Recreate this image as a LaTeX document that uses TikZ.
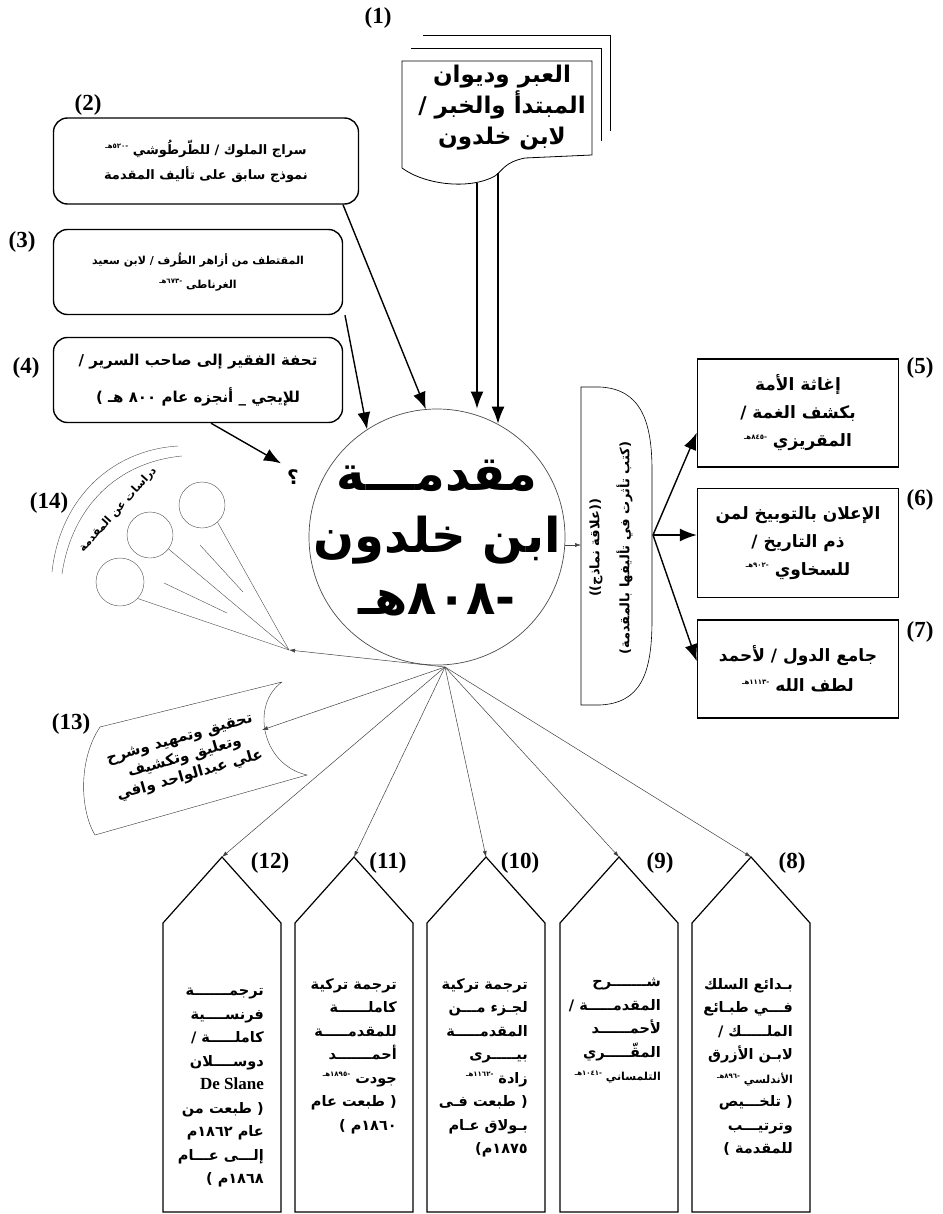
\documentclass[tikz,border=0pt]{standalone}
\usepackage{fontspec}
\setmainfont{Liberation Serif}
\newfontfamily\arabicfont[Script=Arabic]{DejaVu Sans}
\TeXXeTstate=1
\usetikzlibrary{arrows.meta,positioning}
\newcommand{\ar}[1]{{\arabicfont\bfseries\beginR #1\endR}}
\newcommand{\hd}[1]{\raisebox{0.8ex}{\fontsize{7}{7}\selectfont\beginR #1\endR}}
\begin{document}
\begin{tikzpicture}[x=1pt,y=-1pt,
    numlbl/.style={font=\bfseries\fontsize{23}{23}\selectfont, inner sep=0pt},
    srcbox/.style={draw, rounded corners=14pt, line width=1.4pt, align=center, inner sep=0pt},
    infbox/.style={draw, line width=1.4pt, minimum width=201pt, align=center, inner sep=0pt},
    bigarr/.style={-{Latex[length=17pt,width=13pt]}, line width=1.4pt},
    thinarr/.style={-{Latex[length=6pt,width=4pt]}, line width=0.5pt, black!75},
    ptext/.style={anchor=north east, align=right, inner sep=0pt, font=\fontsize{14.5}{23.5}\selectfont},
  ]
  \useasboundingbox (0,0) rectangle (942,1214);

  % top: source books
  \draw[line width=0.8pt] (423,35) -- (610,35) -- (610,131);
  \draw[line width=0.8pt] (411,48) -- (601,48) -- (601,141);
  \draw[line width=0.8pt] (402,61) -- (592,61) -- (592,155) -- (525,158)
    .. controls (505,162) and (503,170) .. (495,176)
    .. controls (470,190) and (425,185) .. (402,168) -- cycle;
  \node[font=\fontsize{23}{31}\selectfont, align=center] (doc) at (502,108)
    {\ar{العبر وديوان}\\ \ar{المبتدأ والخبر /}\\ \ar{لابن خلدون}};
  \coordinate (d1) at (477,183);
  \coordinate (d2) at (498,173);

  \node[srcbox, minimum width=305pt, minimum height=86pt, font=\fontsize{13}{25}\selectfont] (b2) at (206,161)
    {\ar{سراج الملوك / للطّرطُوشي \hd{-٥٢٠هـ}}\\ \ar{نموذج سابق على تأليف المقدمة}};
  \node[srcbox, minimum width=289pt, minimum height=85pt, font=\fontsize{11}{24}\selectfont] (b3) at (198,272)
    {\ar{المقتطف من أزاهر الطُرف / لابن سعيد}\\ \ar{الغرناطى \hd{-٦٧٣هـ}}};
  \node[srcbox, minimum width=289pt, minimum height=85pt, font=\fontsize{15}{37}\selectfont] (b4) at (198,380)
    {\ar{تحفة الفقير إلى صاحب السرير /}\\ \ar{للإيجي \_ أنجزه عام ٨٠٠ هـ )}};
  \node[font=\fontsize{20}{20}\selectfont, inner sep=6pt] (qm) at (293,477) {\ar{؟}};

  % center
  \node[circle, draw=black!70, line width=0.7pt, minimum size=256pt, inner sep=0pt] (mq) at (437,537) {};
  \node[font=\fontsize{48}{62}\selectfont, align=center] (mqtxt) at (437,538)
    {\ar{مقدمـــة}\\ \ar{ابن خلدون}\\ \ar{-٨٠٨هـ}};

  \draw[bigarr] (d1) -- (d1 |- mq.north);
  \draw[bigarr] (d2) -- (d2 |- mq.62);
  \draw[bigarr] ([xshift=137pt]b2.south) -- (mq.95);
  \draw[bigarr] ([xshift=147pt]b3.south) -- (mq.123);
  \draw[bigarr] ([xshift=13pt]b4.south) -- (qm.north west);

  % right: influenced books
  \draw[line width=0.6pt] (581,387) -- (600,387)
    .. controls (640,389) and (652,420) .. (652,470) -- (652,620)
    .. controls (652,675) and (640,703) .. (600,705) -- (581,705) -- cycle;
  \node[rotate=90, align=center, font=\fontsize{13}{30}\selectfont] (mlj) at (611,548)
    {\ar{((علاقة نماذج))}\\ \ar{(كتب تأثرت في تأليفها بالمقدمة)}};
  \coordinate (bnW) at (581,545);
  \coordinate (bnE) at (653,535);
  \draw[thinarr] (mq.east |- bnW) -- (bnW);

  \node[infbox, minimum height=108pt, font=\fontsize{17}{28}\selectfont] (b5) at (798,413)
    {\ar{إغاثة الأمة}\\ \ar{بكشف الغمة /}\\ \ar{المقريزي \hd{-٨٤٥هـ}}};
  \node[infbox, minimum height=109pt, font=\fontsize{17}{28}\selectfont] (b6) at (798,543)
    {\ar{الإعلان بالتوبيخ لمن}\\ \ar{ذم التاريخ /}\\ \ar{للسخاوي \hd{-٩٠٢هـ}}};
  \node[infbox, minimum height=98pt, font=\fontsize{17}{30}\selectfont] (b7) at (798,669)
    {\ar{جامع الدول / لأحمد}\\ \ar{لطف الله \hd{-١١١٣هـ}}};
  \draw[bigarr] (bnE) -- ([yshift=35pt]b5.south west);
  \draw[bigarr] (bnE) -- (b6.west |- bnE);
  \draw[bigarr] (bnE) -- ([yshift=-42pt]b7.north west);

  % left: studies (14)
  \node[circle, draw=black!70, minimum size=46pt, inner sep=0pt] (bl1) at (202,505) {};
  \node[circle, draw=black!70, minimum size=46pt, inner sep=0pt] (bl2) at (150,535) {};
  \node[circle, draw=black!70, minimum size=48pt, inner sep=0pt] (bl3) at (120,582) {};
  \coordinate (st14) at (289,650);
  \draw[black!70] (bl1.-48) -- (st14);
  \draw[black!70] (bl2.-37) -- (st14);
  \draw[black!70] (bl3.-43) -- (st14);
  \draw[black!70] (200,545) -- (243,592);
  \draw[black!70] (164,583) -- (227,613);
  \draw[black!70] (52,572) .. controls (60,498) and (112,450) .. (178,446);
  \draw[black!70] (62,574) .. controls (72,506) and (118,462) .. (182,456);
  \node[rotate=48, font=\fontsize{11}{11}\selectfont, inner sep=1pt] (drs) at (118,510) {\ar{دراسات عن المقدمة}};

  % left: edition (13)
  \draw[black!80] (282,682) -- (100,727)
    .. controls (78,760) and (80,810) .. (95,835) -- (307,775)
    .. controls (262,765) and (250,705) .. (282,682);
  \coordinate (sh13) at (262,730);
  \node[rotate=16, align=center, font=\fontsize{15}{19}\selectfont] (ed13) at (185,758)
    {\ar{تحقيق وتمهيد وشرح}\\ \ar{وتعليق وتكشيف}\\ \ar{علي عبدالواحد وافي}};

  % bottom: commentaries and translations
  \foreach \n/\cx in {8/751,9/619,10/486,11/354,12/222} {
    \draw[line width=1.2pt] (\cx-59,1212) -- (\cx-59,923) -- (\cx,857) -- (\cx+59,923) -- (\cx+59,1212) -- cycle;
    \coordinate (top\n) at (\cx,857);
  }
  \node[ptext] (t8) at (793,978)
    {\ar{بـدائع السلك}\\ \ar{فـــي طبـائع}\\ \ar{الملـــــك /}\\ \ar{لابـن الأزرق}\\
     {\fontsize{11}{11}\selectfont\ar{الأندلسي \hd{-٨٩٦هـ}}}\\ \ar{( تلخـــيص}\\ \ar{وترتيـــب}\\ \ar{للمقدمة )}};
  \node[ptext] (t9) at (661,978)
    {\ar{شـــــــرح}\\ \ar{المقدمـــــة /}\\ \ar{لأحمــــــد}\\ \ar{المقّـــــري}\\
     {\fontsize{11}{11}\selectfont\ar{التلمساني \hd{-١٠٤١هـ}}}};
  \node[ptext] (t10) at (528,978)
    {\ar{ترجمة تركية}\\ \ar{لجـزء مـــن}\\ \ar{المقدمـــــة}\\ \ar{بيـــــرى}\\
     \ar{زادة \hd{-١١٦٢هـ}}\\ \ar{( طبعت فـى}\\ \ar{بـولاق عـام}\\ \ar{١٨٧٥م)}};
  \node[ptext] (t11) at (397,978)
    {\ar{ترجمة تركية}\\ \ar{كاملــــــة}\\ \ar{للمقدمـــــة}\\ \ar{أحمـــــــد}\\
     \ar{جودت \hd{-١٨٩٥هـ}}\\ \ar{( طبعت عام}\\ \ar{١٨٦٠م )}};
  \node[ptext] (t12) at (264,988)
    {\ar{ترجمـــــــة}\\ \ar{فرنســــية}\\ \ar{كاملـــــة /}\\ \ar{دوســــلان}\\
     {\bfseries\fontsize{17}{17}\selectfont De Slane}\\ \ar{( طبعت من}\\ \ar{عام ١٨٦٢م}\\ \ar{إلـــى عـــام}\\ \ar{١٨٦٨م )}};

  % fan from the center
  \coordinate (fan) at (445,667);
  \draw[thinarr] (fan) -- (st14);
  \draw[thinarr] (fan) -- (sh13);
  \draw[thinarr] (fan) -- (top12);
  \draw[thinarr] (fan) -- (top11);
  \draw[thinarr] (fan) -- (top10);
  \draw[thinarr] (fan) -- (top9);
  \draw[thinarr] (fan) -- (top8);

  % numbers
  \node[numlbl] (n1) at (378,18) {(1)};
  \node[numlbl] (n2) at (88,105) {(2)};
  \node[numlbl] (n3) at (22,242) {(3)};
  \node[numlbl] (n4) at (26,368) {(4)};
  \node[numlbl] (n5) at (920,368) {(5)};
  \node[numlbl] (n6) at (920,500) {(6)};
  \node[numlbl] (n7) at (920,632) {(7)};
  \node[numlbl] (n8) at (792,863) {(8)};
  \node[numlbl] (n9) at (660,863) {(9)};
  \node[numlbl] (n10) at (520,863) {(10)};
  \node[numlbl] (n11) at (388,863) {(11)};
  \node[numlbl] (n12) at (270,863) {(12)};
  \node[numlbl] (n13) at (71,724) {(13)};
  \node[numlbl] (n14) at (49,503) {(14)};
\end{tikzpicture}
\end{document}
